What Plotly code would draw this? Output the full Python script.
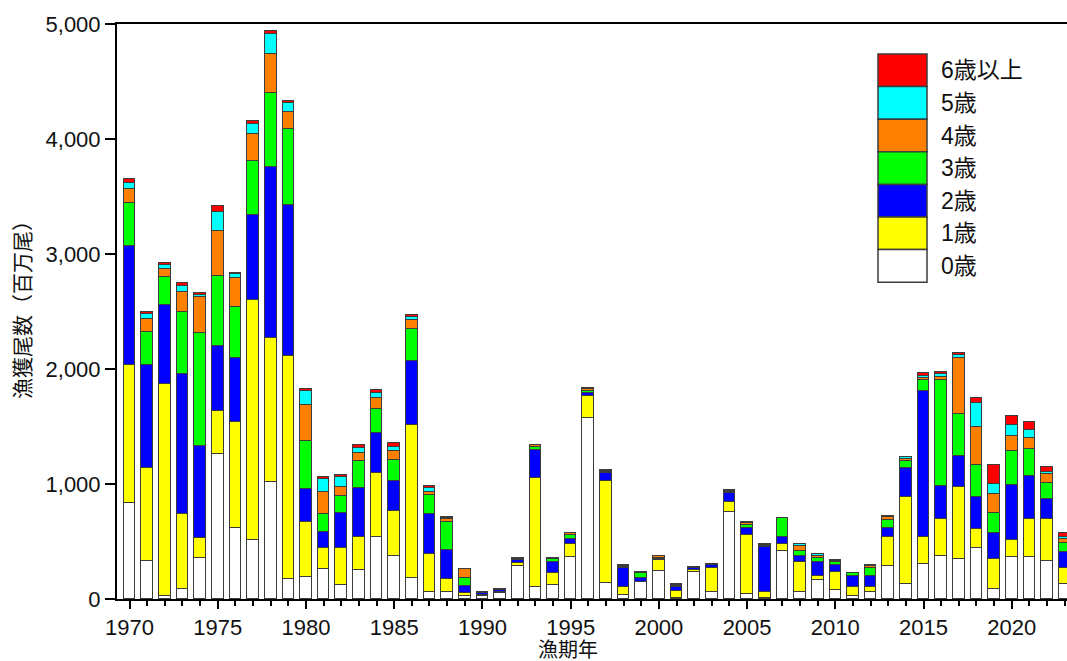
import plotly.graph_objects as go

# Fishing years
years = list(range(1970, 2024))

# Catch in numbers by age (millions of fish), one list per age class
age0 = [832, 330, 29, 87, 354, 1258, 620, 516, 1017, 176,
        194, 258, 119, 249, 536, 374, 180, 64, 64, 29,
        30, 50, 290, 102, 122, 362, 1571, 142, 35, 148,
        246, 8, 232, 58, 759, 41, 5, 420, 64, 165,
        78, 29, 58, 290, 130, 304, 374, 345, 446, 84,
        363, 363, 330, 130]
age1 = [1203, 812, 1841, 649, 174, 380, 920, 2087, 1256, 1934,
        473, 183, 324, 287, 557, 394, 1333, 324, 107, 20,
        8, 10, 20, 948, 107, 116, 194, 884, 67, 3,
        93, 64, 20, 209, 87, 516, 53, 58, 261, 35,
        160, 78, 49, 246, 754, 233, 322, 632, 160, 264,
        150, 333, 366, 137]
age2 = [1035, 893, 687, 1221, 802, 562, 555, 736, 1484, 1320,
        292, 144, 302, 429, 348, 258, 557, 348, 255, 64,
        12, 15, 25, 246, 90, 47, 29, 67, 165, 34,
        10, 35, 15, 25, 73, 63, 391, 58, 52, 125,
        58, 93, 93, 78, 258, 1274, 287, 269, 284, 223,
        478, 374, 176, 142]
age3 = [371, 290, 246, 541, 980, 609, 445, 473, 642, 653,
        415, 151, 151, 232, 211, 183, 275, 168, 246, 67,
        8, 8, 12, 29, 29, 32, 18, 15, 14, 38,
        8, 10, 7, 7, 15, 23, 15, 166, 43, 29,
        29, 23, 72, 73, 61, 93, 921, 363, 273, 174,
        299, 234, 140, 81]
age4 = [127, 107, 67, 174, 313, 394, 250, 235, 336, 153,
        313, 197, 81, 73, 93, 81, 81, 29, 28, 78,
        3, 3, 5, 10, 4, 14, 12, 8, 8, 10,
        15, 8, 4, 3, 8, 21, 8, 0, 44, 23,
        8, 0, 18, 27, 12, 21, 29, 484, 335, 165,
        127, 93, 72, 32]
age5 = [47, 46, 34, 50, 20, 165, 38, 81, 176, 75,
        124, 113, 81, 46, 43, 35, 24, 30, 5, 3,
        2, 1, 2, 4, 2, 6, 8, 6, 7, 5,
        5, 5, 3, 2, 6, 8, 6, 0, 14, 14,
        6, 0, 6, 11, 17, 15, 24, 29, 209, 90,
        96, 73, 23, 20]
age6p = [35, 20, 15, 23, 20, 49, 7, 27, 26, 23,
         12, 18, 20, 23, 29, 29, 20, 20, 5, 3,
         1, 0, 0, 0, 0, 0, 0, 0, 0, 0,
         0, 0, 0, 0, 0, 0, 0, 0, 0, 0,
         0, 0, 0, 0, 5, 22, 14, 20, 38, 165,
         81, 72, 38, 29]

age_names = ["0歳", "1歳", "2歳", "3歳", "4歳", "5歳", "6歳以上"]
age_colors = ["#FFFFFF", "#FFFF00", "#0000FF", "#00FF00", "#FF8000", "#00FFFF", "#FF0000"]
series = [age0, age1, age2, age3, age4, age5, age6p]

FONT = "Liberation Sans, Arial, Noto Sans CJK JP, sans-serif"
OUTLINE = "#3c3c3c"

W, H = 1067, 661
L, R, T, B = 117, 0, 24, 62
PW, PH = W - L - R, H - T - B


def px_x(x):
    return (x - L) / PW


def px_y(y):
    return (H - B - y) / PH


fig = go.Figure()
for name, color, vals in zip(age_names, age_colors, series):
    fig.add_trace(go.Bar(
        x=years, y=vals, name=name, width=0.66,
        marker=dict(color=color, line=dict(color=OUTLINE, width=1.5)),
        showlegend=False,
    ))

# Legend block: stacked colour swatches, oldest age on top
shapes = []
annotations = []
box_top, box_h = 54, 32.6
box_x0, box_x1 = 878, 927
for i, (name, color) in enumerate(zip(age_names[::-1], age_colors[::-1])):
    y0 = box_top + i * box_h
    y1 = y0 + box_h
    shapes.append(dict(type="rect", xref="paper", yref="paper",
                       x0=px_x(box_x0), x1=px_x(box_x1),
                       y0=px_y(y1), y1=px_y(y0),
                       fillcolor=color, line=dict(color=OUTLINE, width=1.5)))
    annotations.append(dict(xref="paper", yref="paper",
                            x=px_x(939), y=px_y((y0 + y1) / 2),
                            xanchor="left", yanchor="middle",
                            text=name, showarrow=False,
                            font=dict(family=FONT, size=23, color="#111")))

# Axis titles
annotations.append(dict(xref="paper", yref="paper", x=px_x(568), y=px_y(650),
                        xanchor="center", yanchor="middle", text="漁期年",
                        showarrow=False, font=dict(family=FONT, size=20, color="#111")))
annotations.append(dict(xref="paper", yref="paper", x=px_x(22), y=px_y(305),
                        xanchor="center", yanchor="middle", text="漁獲尾数（百万尾）",
                        textangle=-90, showarrow=False,
                        font=dict(family=FONT, size=21, color="#111")))

fig.update_layout(
    width=W, height=H,
    margin=dict(l=L, r=R, t=T, b=B, pad=0),
    paper_bgcolor="white", plot_bgcolor="white",
    barmode="stack", bargap=0,
    font=dict(family=FONT, size=22, color="#111"),
    shapes=shapes, annotations=annotations,
    xaxis=dict(
        range=[1969.29, 2023.13],
        tickmode="linear", tick0=1970, dtick=5,
        ticks="outside", ticklen=8, tickwidth=2, tickcolor="black",
        minor=dict(tick0=1970, dtick=1, ticks="outside", ticklen=5,
                   tickwidth=2, tickcolor="black"),
        showline=True, linecolor="black", linewidth=2, mirror=True,
        showgrid=False, zeroline=False,
        tickfont=dict(family=FONT, size=22, color="#111"),
    ),
    yaxis=dict(
        range=[0, 5000], tickmode="linear", tick0=0, dtick=1000,
        tickformat=",d",
        ticks="outside", ticklen=10, tickwidth=2, tickcolor="black",
        showline=True, linecolor="black", linewidth=2,
        showgrid=False, zeroline=False,
        tickfont=dict(family=FONT, size=22, color="#111"),
    ),
)

fig.write_html("out.html")
